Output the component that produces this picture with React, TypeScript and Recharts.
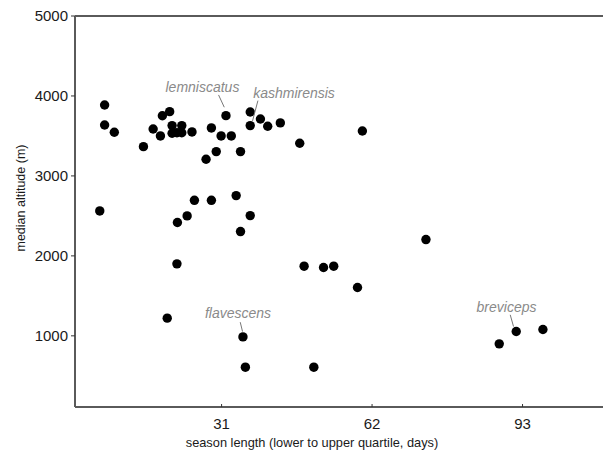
import React from 'react'
import { ScatterChart, Scatter, XAxis, YAxis, ReferenceLine, Label } from 'recharts'

// season length (days) and median altitude (m) per species
const seasonLength = [
  6.9, 6.9, 8.9, 5.9, 14.9, 16.9, 18.4, 18.8, 20.3, 20.8, 22.8, 20.8, 21.8, 22.8, 24.9, 28.9, 30.9,
  33.0, 31.9, 36.9, 36.9, 39.0, 40.5, 43.1, 47.1, 60.0, 29.9, 27.8, 34.9, 25.4, 28.9, 34.0, 36.9,
  23.9, 21.9, 34.9, 21.8, 48.0, 52.0, 54.1, 59.0, 19.8, 35.4, 35.9, 50.0, 73.1, 88.2, 91.7, 97.2,
]
const medianAltitude = [
  3887, 3637, 3546, 2562, 3366, 3587, 3500, 3752, 3804, 3629, 3629, 3533, 3540, 3540, 3550, 3600, 3500,
  3500, 3754, 3800, 3629, 3712, 3621, 3663, 3408, 3562, 3304, 3208, 3304, 2695, 2695, 2754, 2504,
  2500, 2418, 2304, 1900, 1871, 1854, 1871, 1604, 1221, 987, 608, 608, 2204, 900, 1054, 1079,
]
const labelledPoints = [18, 20, 42, 47]
const labelledNames = ['lemniscatus', 'kashmirensis', 'flavescens', 'breviceps']

const xTicks = [31, 62, 93]
const yTicks = [1000, 2000, 3000, 4000, 5000]

// where each species name sits relative to its dot
const labelOffsets: Record<string, { tx: number; ty: number; l1: [number, number]; l2: [number, number] }> = {
  lemniscatus: { tx: -23.5, ty: -23.4, l1: [-7.4, -20.7], l2: [-1.7, -8.4] },
  kashmirensis: { tx: 43.8, ty: -28, l1: [7.7, -25], l2: [2.3, -4.7] },
  flavescens: { tx: -4.9, ty: -18.7, l1: [-2.7, -14.7], l2: [-0.4, -5.3] },
  breviceps: { tx: -9.7, ty: -19.4, l1: [-6, -16.7], l2: [-2.7, -5] },
}

const data = seasonLength.map((x, i) => {
  const k = labelledPoints.indexOf(i)
  return { x, y: medianAltitude[i], name: k >= 0 ? labelledNames[k] : '' }
})

const font = '"Liberation Sans", Arial, sans-serif'
const axisColor = '#5a5a5a'

function Dot(props: any) {
  const { cx, cy, payload } = props
  const off = payload.name ? labelOffsets[payload.name] : null
  return (
    <g>
      <circle cx={cx} cy={cy} r={4.7} fill="#000" />
      {off && (
        <g>
          <line x1={cx + off.l1[0]} y1={cy + off.l1[1]} x2={cx + off.l2[0]} y2={cy + off.l2[1]} stroke="#777" strokeWidth={1} />
          <text x={cx + off.tx} y={cy + off.ty} textAnchor="middle" fontFamily={font} fontSize={14} fontStyle="italic" fill="#8a8a8a">
            {payload.name}
          </text>
        </g>
      )}
    </g>
  )
}

export default function App() {
  return (
    <div style={{ position: 'absolute', left: 0, top: 0, width: 603, height: 458, overflow: 'hidden', background: '#fff' }}>
      <ScatterChart width={640} height={458} margin={{ top: 16, right: 0, bottom: 0, left: 0 }}>
        <XAxis
          type="number"
          dataKey="x"
          domain={[0.8, 117.2]}
          ticks={xTicks}
          allowDataOverflow
          height={51}
          tickSize={-3}
          tickMargin={14}
          axisLine={{ stroke: axisColor, strokeWidth: 2 }}
          tickLine={{ stroke: '#333' }}
          tick={{ fill: '#1a1a1a', fontSize: 15, fontFamily: font }}
        >
          <Label
            content={() => (
              <text x={312} y={447} textAnchor="middle" fontFamily={font} fontSize={12.8} fill="#1a1a1a">
                season length (lower to upper quartile, days)
              </text>
            )}
          />
        </XAxis>
        <YAxis
          type="number"
          dataKey="y"
          domain={[110, 5000]}
          ticks={yTicks}
          allowDataOverflow
          width={75}
          tickSize={4}
          tickMargin={3}
          axisLine={{ stroke: axisColor, strokeWidth: 2 }}
          tickLine={{ stroke: '#333' }}
          tick={{ fill: '#1a1a1a', fontSize: 15, fontFamily: font }}
        >
          <Label
            content={() => (
              <text x={24.5} y={198} transform="rotate(-90 24.5 198)" textAnchor="middle" fontFamily={font} fontSize={12.5} fill="#1a1a1a">
                median altitude (m)
              </text>
            )}
          />
        </YAxis>
        <ReferenceLine y={5000} stroke={axisColor} strokeWidth={2} />
        <Scatter data={data} shape={Dot} isAnimationActive={false} />
      </ScatterChart>
    </div>
  )
}
